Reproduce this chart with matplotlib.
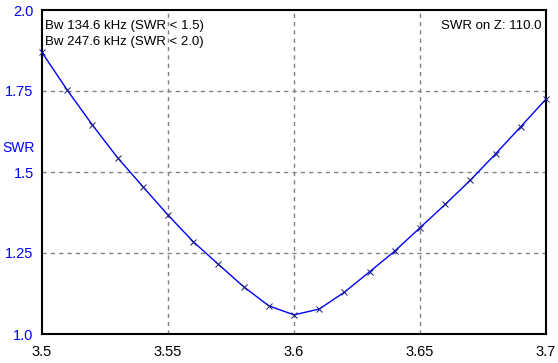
import matplotlib
matplotlib.use("Agg")
import matplotlib.pyplot as plt

plt.rcParams['font.family'] = ['Liberation Sans', 'DejaVu Sans']

freq = [3.50, 3.51, 3.52, 3.53, 3.54, 3.55, 3.56, 3.57, 3.58, 3.59, 3.60,
        3.61, 3.62, 3.63, 3.64, 3.65, 3.66, 3.67, 3.68, 3.69, 3.70]
swr = [1.869, 1.753, 1.645, 1.544, 1.455, 1.367, 1.285, 1.215, 1.146, 1.087, 1.059,
       1.077, 1.129, 1.192, 1.256, 1.328, 1.400, 1.475, 1.556, 1.640, 1.725]
xticks = [3.5, 3.55, 3.6, 3.65, 3.7]
xticklabels = ['3.5', '3.55', '3.6', '3.65', '3.7']
yticks = [1.0, 1.25, 1.5, 1.75, 2.0]
yticklabels = ['1.0', '1.25', '1.5', '1.75', '2.0']
info_left = ['Bw 134.6 kHz (SWR < 1.5)', 'Bw 247.6 kHz (SWR < 2.0)']
info_right = 'SWR on Z: 110.0'

fig = plt.figure(figsize=(5.58, 3.63), dpi=100)
ax = fig.add_axes([42/558, 1 - 334/363, 504/558, 324/363])

ax.plot(freq, swr, color='#0000ff', lw=1.0, marker='x', ms=5,
        mec='#1a1a70', mew=0.7, zorder=3, clip_on=False)

ax.set_xlim(3.5, 3.7)
ax.set_ylim(1.0, 2.0)
ax.set_xticks(xticks)
ax.set_xticklabels(xticklabels)
ax.set_yticks(yticks)
ax.set_yticklabels(yticklabels, color='#0000ff')
ax.tick_params(length=0, labelsize=10.5)
ax.tick_params(axis='x', pad=8)
ax.tick_params(axis='y', pad=6)
for s in ax.spines.values():
    s.set_linewidth(1.5)
    s.set_color('black')

for x in xticks[1:-1]:
    ax.axvline(x, color='#808080', lw=1.0, ls=(0, (3, 3)), zorder=1)
for y in yticks[1:-1]:
    ax.axhline(y, color='#808080', lw=1.0, ls=(0, (3, 3)), zorder=1)

ax.text(-0.047, 0.574, 'SWR', transform=ax.transAxes, color='#0000ff',
        fontsize=10, ha='center', va='center')
for i, t in enumerate(info_left):
    ax.text(0.006, 0.951 - i * 0.05, t, transform=ax.transAxes,
            fontsize=9.5, ha='left', va='center')
ax.text(0.992, 0.951, info_right, transform=ax.transAxes,
        fontsize=9.5, ha='right', va='center')

fig.savefig('out.png', dpi=100)
